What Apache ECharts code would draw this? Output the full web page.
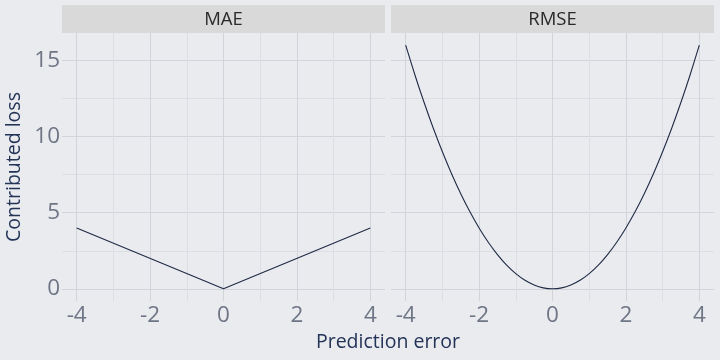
<!DOCTYPE html>
<html><head><meta charset="utf-8">
<script src="https://cdn.jsdelivr.net/npm/echarts@6/dist/echarts.min.js"></script>
<style>html,body{margin:0;padding:0;background:#e9ebef}#c{width:720px;height:360px}</style>
</head><body><div id="c"></div>
<script>
const panels = ['MAE', 'RMSE'];
const xMajorTicks = [-4, -2, 0, 2, 4];
const xMinorTicks = [-3, -1, 1, 3];
const yMajorTicks = [0, 5, 10, 15];
const yMinorTicks = [2.5, 7.5, 12.5];
const maeX = [-4, 0, 4];
const maeY = [4, 0, 4];
const rmseX = [-4, -3.75, -3.5, -3.25, -3, -2.75, -2.5, -2.25, -2, -1.75, -1.5, -1.25, -1, -0.75, -0.5, -0.25, 0,
  0.25, 0.5, 0.75, 1, 1.25, 1.5, 1.75, 2, 2.25, 2.5, 2.75, 3, 3.25, 3.5, 3.75, 4];
const rmseY = [16, 14.06, 12.25, 10.56, 9, 7.56, 6.25, 5.06, 4, 3.06, 2.25, 1.56, 1, 0.56, 0.25, 0.06, 0,
  0.06, 0.25, 0.56, 1, 1.56, 2.25, 3.06, 4, 5.06, 6.25, 7.56, 9, 10.56, 12.25, 14.06, 16];

const BG = '#e9ebef', GRID = '#d1d4da', MINOR = '#dcdee3', TICKC = '#6e7584', TITLEC = '#233457', LINEC = '#1f2a44';
const FONT = '"Open Sans", "Noto Sans", sans-serif';

const grids = [
  {left: 62, top: 33, width: 323, height: 268},
  {left: 391, top: 33, width: 323, height: 268}
];
const xAxes = [], yAxes = [];
[0, 1].forEach(g => {
  xAxes.push({type: 'value', gridIndex: g, min: -4.4, max: 4.4,
    axisLine: {show: false},
    axisTick: {show: true, length: 3, customValues: xMajorTicks, lineStyle: {color: GRID}},
    axisLabel: {customValues: xMajorTicks, color: TICKC, fontSize: 22.5, fontFamily: FONT, margin: 3},
    splitLine: {show: true, lineStyle: {color: GRID, width: 1}}});
  xAxes.push({type: 'value', gridIndex: g, min: -4.4, max: 4.4,
    axisLine: {show: false},
    axisTick: {show: false, customValues: xMinorTicks},
    axisLabel: {show: false, customValues: xMinorTicks},
    splitLine: {show: true, lineStyle: {color: MINOR, width: 1}}});
  yAxes.push({type: 'value', gridIndex: g, min: -0.8, max: 16.8,
    axisLine: {show: false},
    axisTick: {show: g === 0, length: 4, customValues: yMajorTicks, lineStyle: {color: GRID}},
    axisLabel: {show: g === 0, customValues: yMajorTicks, color: TICKC, fontSize: 22.5, fontFamily: FONT, margin: 2},
    splitLine: {show: true, lineStyle: {color: GRID, width: 1}}});
  yAxes.push({type: 'value', gridIndex: g, min: -0.8, max: 16.8,
    axisLine: {show: false},
    axisTick: {show: false, customValues: yMinorTicks},
    axisLabel: {show: false, customValues: yMinorTicks},
    splitLine: {show: true, lineStyle: {color: MINOR, width: 1}}});
});

const chart = echarts.init(document.getElementById('c'), null, {renderer: 'canvas'});
chart.setOption({
  backgroundColor: BG,
  animation: false,
  grid: grids,
  xAxis: xAxes,
  yAxis: yAxes,
  graphic: [
    {type: 'rect', shape: {x: 62, y: 5, width: 323, height: 28}, style: {fill: '#d9d9d9'}},
    {type: 'rect', shape: {x: 391, y: 5, width: 323, height: 28}, style: {fill: '#d9d9d9'}},
    {type: 'text', x: 223.5, y: 19.5, style: {text: panels[0], fill: '#2a2a2a', font: '18.5px ' + FONT, align: 'center', verticalAlign: 'middle'}},
    {type: 'text', x: 552.5, y: 19.5, style: {text: panels[1], fill: '#2a2a2a', font: '18.5px ' + FONT, align: 'center', verticalAlign: 'middle'}},
    {type: 'text', x: 388, y: 342, style: {text: 'Prediction error', fill: TITLEC, font: '19.5px ' + FONT, align: 'center', verticalAlign: 'middle'}},
    {type: 'text', x: 14, y: 167, rotation: Math.PI / 2, style: {text: 'Contributed loss', fill: TITLEC, font: '19.5px ' + FONT, align: 'center', verticalAlign: 'middle'}}
  ],
  series: [
    {type: 'line', xAxisIndex: 0, yAxisIndex: 0, data: maeX.map((x, i) => [x, maeY[i]]), showSymbol: false, lineStyle: {color: LINEC, width: 1.1}},
    {type: 'line', xAxisIndex: 2, yAxisIndex: 2, data: rmseX.map((x, i) => [x, rmseY[i]]), showSymbol: false, smooth: 0.3, lineStyle: {color: LINEC, width: 1.1}}
  ]
});
</script></body></html>
